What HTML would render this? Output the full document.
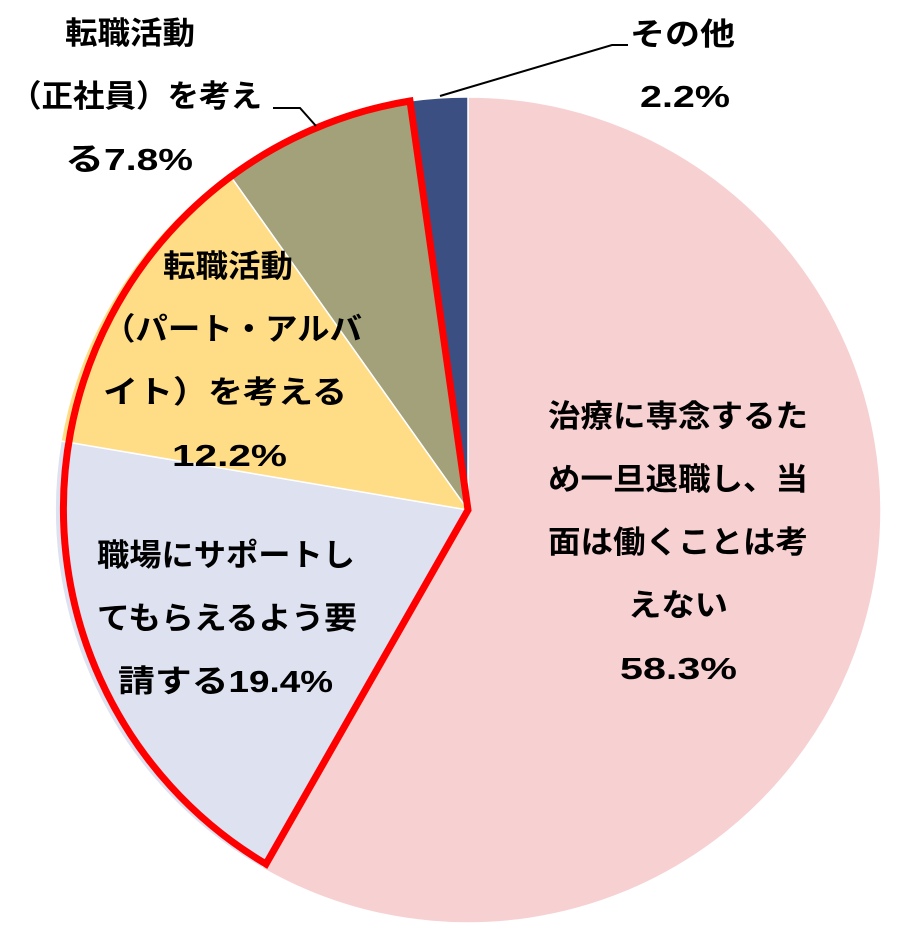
<!DOCTYPE html>
<html><head><meta charset="utf-8"><style>
html,body{margin:0;padding:0;background:#fff;}
svg text{font-family:"Liberation Sans","Noto Sans CJK JP",sans-serif;font-weight:bold;font-size:31px;fill:#000;}
</style></head><body>
<svg width="898" height="941" viewBox="0 0 898 941" xmlns="http://www.w3.org/2000/svg">
<g stroke="#fff" stroke-width="1.5">
<path d="M468,510 L468,97 A413,413 0 1,1 262,868 Z" fill="#F7D0D1"/>
<path d="M468,510 L262,868 A413,413 0 0,1 61,441 Z" fill="#DDE1F0"/>
<path d="M468,510 L61,441 A413,413 0 0,1 229,174 Z" fill="#FFDD87"/>
<path d="M468,510 L229,174 A413,413 0 0,1 409,101 Z" fill="#A2A17A"/>
<path d="M468,510 L409,101 A413,413 0 0,1 468,97 Z" fill="#3C4F82"/>
</g>
<path d="M468,510 L266,864 A413,413 0 0,1 410,101 Z" fill="none" stroke="#FF0000" stroke-width="7" stroke-linejoin="miter"/>
<polyline points="440,96 612,45 628,45" fill="none" stroke="#000" stroke-width="2"/>
<polyline points="316,126 300,108 273,108" fill="none" stroke="#000" stroke-width="2"/>
<g lengthAdjust="spacingAndGlyphs">
<text x="630" y="45" textLength="105" lengthAdjust="spacingAndGlyphs">その他</text>
<text x="640" y="107" textLength="90" lengthAdjust="spacingAndGlyphs">2.2%</text>
<text x="65" y="44" textLength="130" lengthAdjust="spacingAndGlyphs">転職活動</text>
<text x="10" y="107" textLength="252" lengthAdjust="spacingAndGlyphs">（正社員）を考え</text>
<text x="65" y="170" textLength="128" lengthAdjust="spacingAndGlyphs">る7.8%</text>
<text x="163" y="277" textLength="130" lengthAdjust="spacingAndGlyphs">転職活動</text>
<text x="103" y="340" textLength="259" lengthAdjust="spacingAndGlyphs">（パート・アルバ</text>
<text x="103" y="403" textLength="244" lengthAdjust="spacingAndGlyphs">イト）を考える</text>
<text x="172" y="466" textLength="115" lengthAdjust="spacingAndGlyphs">12.2%</text>
<text x="97" y="566" textLength="258" lengthAdjust="spacingAndGlyphs">職場にサポートし</text>
<text x="97" y="629" textLength="260" lengthAdjust="spacingAndGlyphs">てもらえるよう要</text>
<text x="118" y="692" textLength="215" lengthAdjust="spacingAndGlyphs">請する19.4%</text>
<text x="548" y="427" textLength="260" lengthAdjust="spacingAndGlyphs">治療に専念するた</text>
<text x="548" y="490" textLength="260" lengthAdjust="spacingAndGlyphs">め一旦退職し、当</text>
<text x="548" y="553" textLength="260" lengthAdjust="spacingAndGlyphs">面は働くことは考</text>
<text x="628" y="616" textLength="100" lengthAdjust="spacingAndGlyphs">えない</text>
<text x="620" y="679" textLength="117" lengthAdjust="spacingAndGlyphs">58.3%</text>
</g>
</svg>
</body></html>
